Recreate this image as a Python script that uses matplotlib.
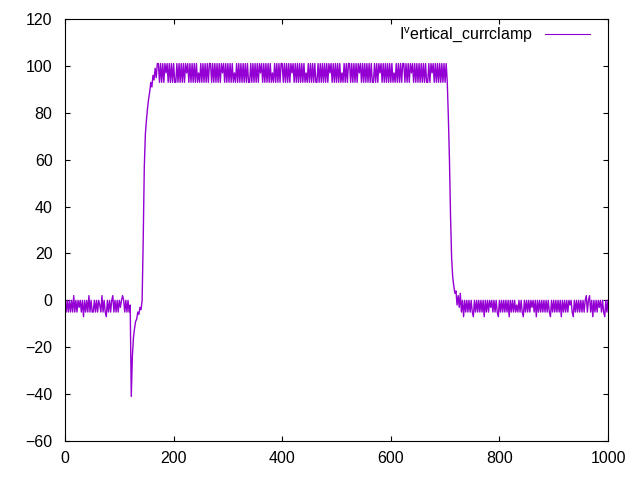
import matplotlib
matplotlib.use("Agg")
import matplotlib.pyplot as plt
import numpy as np

plt.rcParams["font.family"] = ["Liberation Sans", "DejaVu Sans"]
plt.rcParams["mathtext.default"] = "regular"
plt.rcParams["path.simplify"] = False  # keep every noisy sample

# ==============================
# Data (sampled every 2 time units, 0..1000)
# ==============================
t_start, t_end, t_step = 0, 1000, 2

# baseline before the pulse (t = 0..118)
pre_pulse = [
    0, -5, 0, -5, 0, -5, 0, -5, 2, -5, 0, -5, 0, -3, 0, -5, 0, -7, 0, -5,
    0, -5, 2, -5, 0, -5, -5, 0, -5, 0, -5, 0, -2, -5, 2, -5, 0, -5, -7, 0,
    -5, 0, -5, 0, 2, -5, 0, -5, 0, -5, 0, -3, 0, 2, 0, -5, 0, -5, 0, -5,
]

# dip and rise (t = 120..170)
onset = [
    -2, -41, -24, -16, -12, -9, -8, -5, -6, -3, -4, 0, 26,
    57, 71, 77, 82, 86, 89, 93, 91, 96, 94, 99, 95, 101,
]

# plateau (t = 172..702)
plateau = [
    101, 93, 101, 93, 101, 93, 101, 97, 101, 93, 101, 93, 101, 93, 101, 93, 93, 101, 93, 101,
    93, 101, 93, 101, 93, 101, 97, 101, 93, 101, 93, 101, 93, 101, 93, 101, 93, 97, 93, 101,
    93, 101, 93, 101, 93, 101, 93, 101, 101, 93, 101, 93, 101, 93, 101, 93, 101, 93, 101, 97,
    101, 93, 101, 93, 101, 93, 101, 93, 101, 93, 97, 93, 101, 93, 101, 93, 101, 93, 101, 93,
    101, 93, 101, 93, 93, 101, 93, 101, 93, 101, 93, 101, 93, 101, 97, 101, 93, 101, 93, 101,
    93, 101, 93, 101, 93, 97, 93, 101, 93, 101, 93, 101, 93, 101, 101, 93, 101, 93, 101, 93,
    101, 93, 101, 97, 101, 93, 101, 93, 101, 93, 101, 93, 101, 93, 101, 93, 97, 93, 101, 93,
    101, 93, 101, 93, 101, 93, 93, 101, 93, 101, 93, 101, 93, 101, 93, 101, 93, 101, 97, 101,
    93, 101, 93, 101, 93, 101, 93, 101, 93, 97, 93, 101, 93, 101, 93, 101, 101, 93, 101, 93,
    101, 93, 101, 93, 101, 97, 101, 93, 101, 93, 101, 93, 101, 93, 101, 93, 101, 93, 93, 101,
    93, 101, 93, 101, 97, 101, 93, 101, 93, 101, 93, 101, 93, 101, 93, 101, 93, 97, 93, 101,
    93, 101, 93, 101, 93, 101, 101, 93, 101, 93, 101, 93, 101, 97, 101, 93, 101, 93, 101, 93,
    101, 93, 101, 93, 101, 93, 101, 93, 93, 101, 93, 101, 97, 101, 93, 101, 93, 101, 93, 101,
    93, 101, 93, 101, 93, 101,
]

# fall (t = 704..722)
offset = [93, 78, 60, 36, 18, 10, 6, 3, 4, -2]

# baseline after the pulse (t = 724..1000)
post_pulse = [
    2, -3, 3, -5, 0, -7, 0, -5, 0, -5, 0, -5, 0, -5, -7, 0, -5, 0, -5, 0,
    -5, 0, -5, 0, -7, 0, -5, 0, -5, 0, -3, 0, -5, 0, -5, 0, -5, -7, 0, -5,
    0, -5, 0, -5, 0, -5, 0, -7, 0, -5, 0, -5, 0, -5, -2, -5, 0, -5, 0, -5,
    -7, 0, -5, 0, -5, 0, -5, 0, -3, 0, -5, 0, -7, 0, -5, 0, -5, 0, -5, 0,
    -5, 0, -5, 0, -5, -7, 0, -5, 0, -5, 0, -5, 0, -5, 0, -7, 0, -5, 0, -5,
    0, -5, 0, -2, 0, -5, -7, 0, -5, 0, -5, 0, -5, 0, -5, 0, -5, 0, 2, -5,
    0, 2, -5, 0, -7, 0, -5, 0, -5, 0, -3, 0, -5, 0, -5, -7, 0, -5, 0,
]

series_label = r"I$^{v}$ertical_currclamp"
x_ticks = [0, 200, 400, 600, 800, 1000]
y_ticks = [-60, -40, -20, 0, 20, 40, 60, 80, 100, 120]

current = np.array(pre_pulse + onset + plateau + offset + post_pulse, dtype=float)
t = np.arange(t_start, t_end + 1, t_step)

# ==============================
# Plot
# ==============================
fig = plt.figure(figsize=(6.4, 4.8), dpi=100)
ax = fig.add_axes([0.1016, 0.0813, 0.8484, 0.8791])

ax.plot(t, current, color="#9400d3", lw=1.0, label=series_label)

ax.set_xlim(0, 1000)
ax.set_ylim(-60, 120)
ax.set_xticks(x_ticks)
ax.set_yticks(y_ticks)

ax.tick_params(axis="both", direction="in", length=3.3, width=0.8,
               top=True, right=True, labelsize=11.5, colors="black")
ax.tick_params(axis="y", pad=9)
ax.tick_params(axis="x", pad=7)
for s in ax.spines.values():
    s.set_linewidth(0.8)

leg = ax.legend(loc="upper right", bbox_to_anchor=(0.9787, 1.0),
                frameon=False, markerfirst=False, handlelength=2.8,
                fontsize=11.5, borderaxespad=0.0, handletextpad=0.8)
for h in leg.get_lines():
    h.set_linewidth(0.8)

fig.savefig("out.png", dpi=100)
